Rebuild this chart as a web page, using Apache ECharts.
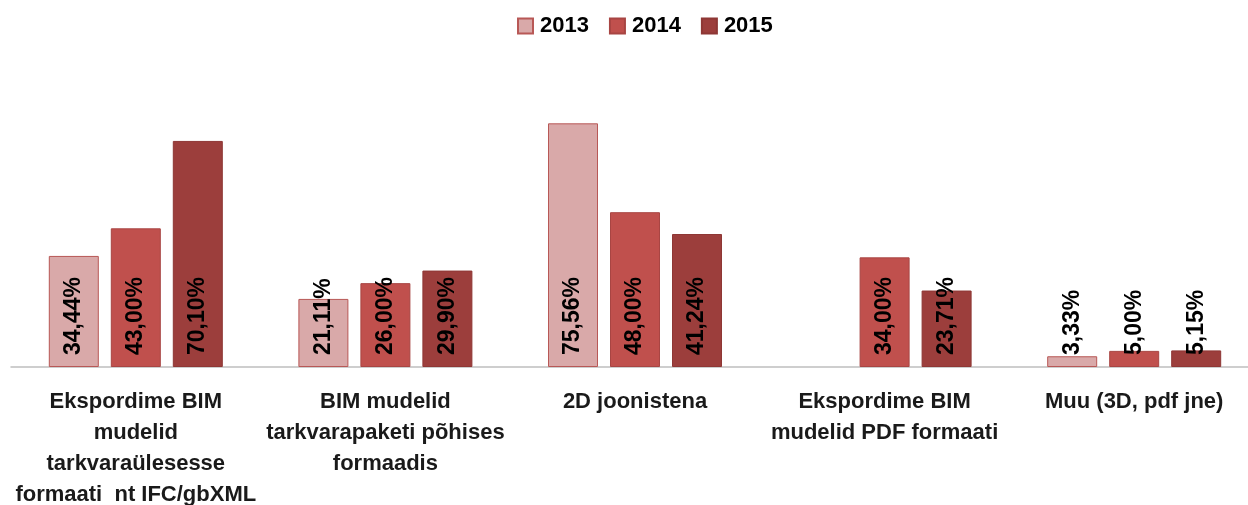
<!DOCTYPE html>
<html>
<head>
<meta charset="utf-8">
<script src="https://cdn.jsdelivr.net/npm/echarts@6/dist/echarts.min.js"></script>
<style>
  html, body { margin: 0; padding: 0; background: #fff; }
  #chart { width: 1248px; height: 505px; }
</style>
</head>
<body>
<div id="chart"></div>
<script>
const categories = [
  "Ekspordime BIM\nmudelid\ntarkvaraülesesse\nformaati  nt IFC/gbXML",
  "BIM mudelid\ntarkvarapaketi põhises\nformaadis",
  "2D joonistena",
  "Ekspordime BIM\nmudelid PDF formaati",
  "Muu (3D, pdf jne)"
];
const years = ["2013", "2014", "2015"];
const values2013 = [34.44, 21.11, 75.56, "-", 3.33];
const values2014 = [43.00, 26.00, 48.00, 34.00, 5.00];
const values2015 = [70.10, 29.90, 41.24, 23.71, 5.15];

const font = "Liberation Sans";
const fills = ["#D9A9A9", "#C0504D", "#9C3E3C"];
const borders = ["#B85856", "#A84543", "#8E3735"];

function makeSeries(name, data, i) {
  return {
    name: name,
    type: "bar",
    data: data,
    barWidth: 50,
    barGap: "24%",
    itemStyle: { color: fills[i], borderColor: borders[i], borderWidth: 1 },
    label: {
      show: true,
      position: "insideBottom",
      distance: 12,
      rotate: 90,
      align: "left",
      verticalAlign: "middle",
      color: "#000",
      fontFamily: font,
      fontWeight: "bold",
      fontSize: 23,
      formatter: (p) => p.value.toFixed(2).replace(".", ",") + "%",
    },
  };
}

const myChart = echarts.init(document.getElementById("chart"));
const option = {
  animation: false,
  legend: {
    top: 10,
    left: 512,
    itemWidth: 15,
    itemHeight: 15,
    itemGap: 20,
    icon: "rect",
    textStyle: { color: "#000", fontFamily: font, fontWeight: "bold", fontSize: 22, padding: [0, 0, 0, 2] },
    data: years,
  },
  grid: { left: 11, width: 1248, top: 109, bottom: 138, outerBoundsMode: "none", containLabel: false },
  xAxis: {
    type: "category",
    data: categories,
    axisLine: { lineStyle: { color: "#BFBFBF", width: 1.5 } },
    axisTick: { show: false },
    axisLabel: {
      interval: 0,
      margin: 19,
      color: "#1a1a1a",
      fontFamily: font,
      fontWeight: "bold",
      fontSize: 22,
      lineHeight: 31,
    },
  },
  yAxis: {
    type: "value",
    min: 0,
    max: 80,
    show: false,
  },
  series: [
    makeSeries(years[0], values2013, 0),
    makeSeries(years[1], values2014, 1),
    makeSeries(years[2], values2015, 2),
  ],
};
myChart.setOption(option);
</script>
</body>
</html>
